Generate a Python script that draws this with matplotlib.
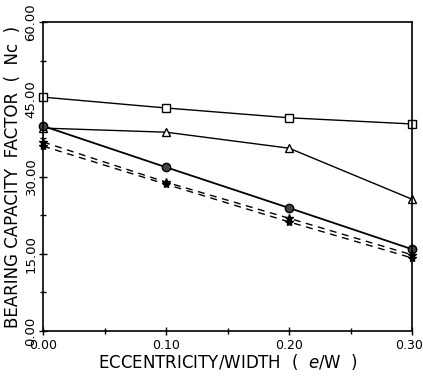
import matplotlib
matplotlib.use('Agg')
import matplotlib.pyplot as plt
import matplotlib.transforms as mtransforms
import numpy as np

# data
ecc = [0.0, 0.10, 0.20, 0.30]
nc_square = [45.4, 43.3, 41.4, 40.2]
nc_triangle = [39.4, 38.6, 35.5, 25.6]
nc_circle = [39.8, 31.8, 23.9, 15.9]
nc_star1 = [36.7, 28.9, 21.9, 14.8]
nc_star2 = [35.9, 28.5, 21.2, 14.2]

xticks = [0.0, 0.10, 0.20, 0.30]
xticklabels = ['0.00', '0.10', '0.20', '0.30']
yticks = [0, 15, 30, 45, 60]
yticklabels = ['0.00', '15.00', '30.00', '45.00', '60.00']

fig = plt.figure(figsize=(4.23, 3.78), dpi=100)
ax = fig.add_axes([0.102, 0.124, 0.872, 0.818])

ax.plot(ecc, nc_square, '-', color='black', lw=1.0, marker='s', ms=6,
        mfc='white', mec='black', clip_on=False)
ax.plot(ecc, nc_triangle, '-', color='black', lw=1.0, marker='^', ms=6,
        mfc='white', mec='black', clip_on=False)
ax.plot(ecc, nc_circle, '-', color='black', lw=1.3, marker='o', ms=6,
        mfc='#444444', mec='black', clip_on=False)
ax.plot(ecc, nc_star1, '--', color='black', lw=1.0, marker='*', ms=6,
        mfc='black', mec='black', clip_on=False, dashes=(5, 4))
ax.plot(ecc, nc_star2, '--', color='black', lw=1.0, marker='*', ms=6,
        mfc='black', mec='black', clip_on=False, dashes=(5, 4))

ax.set_xlim(0, 0.30)
ax.set_ylim(0, 60)
ax.set_xticks(xticks)
ax.set_xticklabels(xticklabels, fontsize=9)
ax.set_xticks(np.arange(0.05, 0.30, 0.10), minor=True)
ax.set_yticks(yticks)
ax.set_yticklabels(yticklabels, fontsize=9.5, rotation=90, va='center')
ax.set_yticks(np.arange(7.5, 60, 15), minor=True)
ax.tick_params(which='both', direction='inout', length=6, width=1)
ax.tick_params(which='minor', length=4)
ax.tick_params(axis='y', pad=1)
ax.tick_params(axis='x', pad=3)

# nudge the last x label so it stays inside the picture
last = ax.get_xticklabels()[-1]
last.set_transform(last.get_transform() +
                   mtransforms.ScaledTranslation(-3 / 100, 0, fig.dpi_scale_trans))

for s in ax.spines.values():
    s.set_linewidth(1.2)

ax.set_xlabel(r'ECCENTRICITY/WIDTH  (  $e$/W  )', fontsize=12, labelpad=0)
ax.set_ylabel('BEARING CAPACITY  FACTOR  (  Nc  )', fontsize=12, labelpad=2)

plt.savefig('out.png', dpi=100)
